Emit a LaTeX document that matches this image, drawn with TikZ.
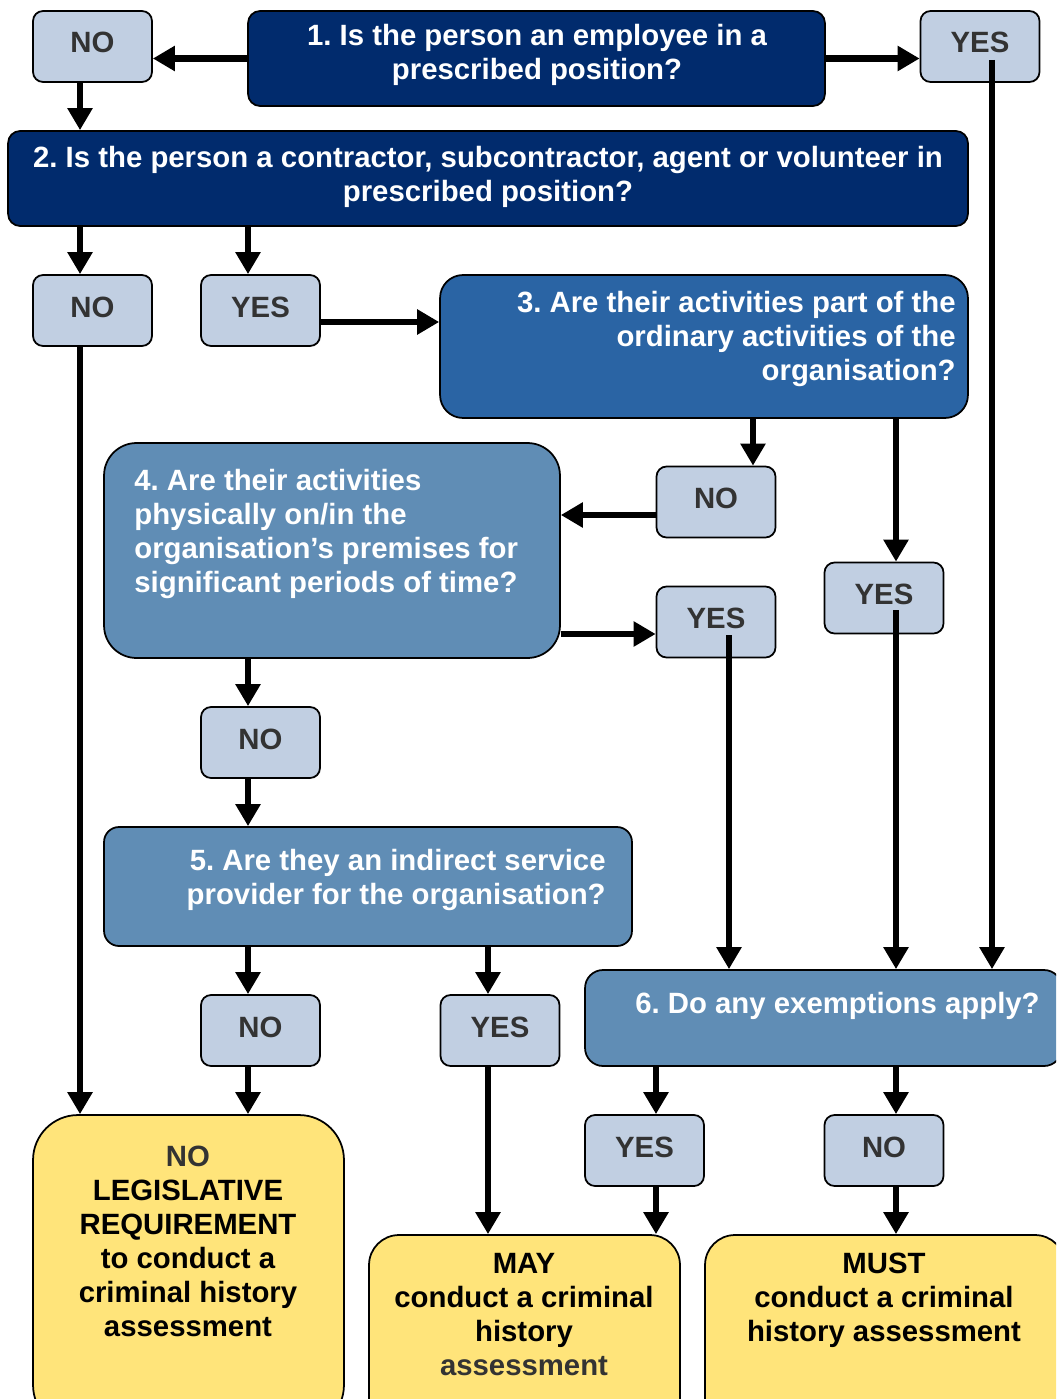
\documentclass[tikz,border=0pt]{standalone}
\usepackage{fontspec}
\setmainfont{Liberation Sans}
\usetikzlibrary{arrows.meta,positioning}
\definecolor{navyq}{HTML}{012B6D}
\definecolor{blueq}{HTML}{2A64A4}
\definecolor{steelq}{HTML}{608DB5}
\definecolor{paleq}{HTML}{C1CFE2}
\definecolor{sunq}{HTML}{FFE47A}
\definecolor{inkgray}{HTML}{333333}
\frenchspacing

\begin{document}
\begin{tikzpicture}[
      x=0.02cm, y=-0.02cm,
      >={Triangle[length=0.44cm, width=0.48cm]},
      font=\fontsize{16.7}{19.35}\selectfont\bfseries,
      box/.style={draw=black, line width=1pt, inner sep=0},
      question/.style={box, rounded corners=0.24cm},
      answer/.style={box, rounded corners=0.2cm, fill=paleq, text=inkgray,
      minimum width=2.38cm, minimum height=1.42cm, text height=0.4cm,
      text depth=0.14cm},
      result/.style={box, fill=sunq, minimum width=6.22cm},
      qtext/.style={inner sep=0, text=white},
      rtext/.style={inner sep=0, text=black, align=center, anchor=north},
      flow/.style={->, line width=0.13cm}
    ]
    \useasboundingbox (0,0) rectangle (1056,1399);
    \clip (0,0) rectangle (1056,1399);

    % question boxes
    \node[question, fill=navyq, minimum width=11.54cm, minimum height=1.9cm]
    (q1) at (536.5,58.5) {};
    \node[question, fill=navyq, minimum width=19.2cm, minimum height=1.9cm]
    (q2) at (488,178.5) {};
    \node[question, fill=blueq, rounded corners=0.46cm, minimum width=10.56cm,
    minimum height=2.86cm] (q3) at (704,346.5) {};
    \node[question, fill=steelq, rounded corners=0.65cm, minimum width=9.12cm,
    minimum height=4.3cm] (q4) at (332,550.5) {};
    \node[question, fill=steelq, rounded corners=0.3cm, minimum width=10.56cm,
    minimum height=2.38cm] (q5) at (368,886.5) {};
    \node[question, fill=steelq, rounded corners=0.36cm, minimum width=9.54cm,
    minimum height=1.92cm] (q6) at (823.5,1018) {};

    \node[qtext, align=center, anchor=north] (q1text) at (537,24)
    {1. Is the person an employee in a\\prescribed position?};
    \node[qtext, align=center, anchor=north] (q2text) at (488,146)
    {2. Is the person a contractor, subcontractor, agent or volunteer in\\
    prescribed position?};
    \node[qtext, align=right, anchor=north east] (q3text) at (956,291)
    {3. Are their activities part of the\\ordinary activities of the\\
    organisation?};
    \node[qtext, align=left, anchor=north west] (q4text) at (134,469)
    {4. Are their activities\\physically on/in the\\organisation’s premises for\\
    significant periods of time?};
    \node[qtext, align=right, anchor=north east] (q5text) at (606,849)
    {5. Are they an indirect service\\provider for the organisation?};
    \node[qtext, align=right, anchor=north east] (q6text) at (1040,992)
    {6. Do any exemptions apply?};

    % answers
    \node[answer] (no1) at (92.5,46.5) {NO};
    \node[answer] (yes1) at (980,46.5) {YES};
    \node[answer] (no2) at (92.5,310.5) {NO};
    \node[answer] (yes2) at (260.5,310.5) {YES};
    \node[answer] (no3) at (716,502) {NO};
    \node[answer] (yes3) at (884,598) {YES};
    \node[answer] (yes4) at (716,622) {YES};
    \node[answer] (no4) at (260.5,742.5) {NO};
    \node[answer] (no5) at (260.5,1030.5) {NO};
    \node[answer] (yes5) at (500,1030.5) {YES};
    \node[answer] (yes6) at (644.5,1150.5) {YES};
    \node[answer] (no6) at (884,1150.5) {NO};

    % outcomes
    \node[result, rounded corners=0.9cm, minimum height=6.3cm] (none)
    at (188.5,1272.5) {};
    \node[result, rounded corners=0.6cm, minimum height=3.9cm] (may)
    at (524.5,1332.5) {};
    \node[result, rounded corners=0.6cm, minimum width=7.2cm,
    minimum height=3.9cm] (must) at (885,1332.5) {};

    \node[rtext] (nonetext) at (188,1146) {\textcolor{inkgray}{NO}\\
    LEGISLATIVE\\REQUIREMENT\\to conduct a\\criminal history\\assessment};
    \node[rtext] (maytext) at (524,1253) {MAY\\conduct a criminal\\history\\
    \textcolor{inkgray}{assessment}};
    \node[rtext] (musttext) at (884,1253) {MUST\\conduct a criminal\\
    history assessment};

    % connectors
    \draw[flow] (q1.west) -- (q1.west -| no1.east);
    \draw[flow] (q1.east) -- (q1.east -| yes1.west);
    \draw[flow] ([xshift=-0.25cm]no1.south) -- ([xshift=-0.25cm]no1.south |- q2.north);
    \draw[flow] ([xshift=-0.25cm]no2.north |- q2.south) -- ([xshift=-0.25cm]no2.north);
    \draw[flow] ([xshift=-0.25cm]yes2.north |- q2.south) -- ([xshift=-0.25cm]yes2.north);
    \draw[flow] ([yshift=-0.23cm]yes2.east) -- ([yshift=-0.23cm]yes2.east -| q3.west);
    \draw[flow] ([xshift=0.74cm]no3.north |- q3.south) -- ([xshift=0.74cm]no3.north);
    \draw[flow] ([xshift=0.24cm]yes3.north |- q3.south) -- ([xshift=0.24cm]yes3.north);
    \draw[flow] ([yshift=-0.26cm]no3.west) -- ([yshift=-0.26cm]no3.west -| q4.east);
    \draw[flow] ([yshift=-0.24cm]yes4.west -| q4.east) -- ([yshift=-0.24cm]yes4.west);
    \draw[flow] ([xshift=-0.25cm]no4.north |- q4.south) -- ([xshift=-0.25cm]no4.north);
    \draw[flow] ([xshift=-0.25cm]no4.south) -- ([xshift=-0.25cm]no4.south |- q5.north);
    \draw[flow] ([xshift=-0.25cm]no5.north |- q5.south) -- ([xshift=-0.25cm]no5.north);
    \draw[flow] ([xshift=-0.24cm]yes5.north |- q5.south) -- ([xshift=-0.24cm]yes5.north);
    \draw[flow] ([xshift=-0.25cm]no2.south) -- ([xshift=-0.25cm]no2.south |- none.north);
    \draw[flow] ([xshift=-0.25cm]no5.south) -- ([xshift=-0.25cm]no5.south |- none.north);
    \draw[flow] ([xshift=-0.24cm]yes5.south) -- ([xshift=-0.24cm]yes5.south |- may.north);
    \draw[flow] ([xshift=0.26cm,yshift=-0.26cm]yes4.center)
    -- ([xshift=0.26cm]yes4.center |- q6.north);
    \draw[flow] ([xshift=0.24cm,yshift=-0.24cm]yes3.center)
    -- ([xshift=0.24cm]yes3.center |- q6.north);
    \draw[flow] ([xshift=0.24cm,yshift=-0.27cm]yes1.center)
    -- ([xshift=0.24cm]yes1.center |- q6.north);
    \draw[flow] ([xshift=0.23cm]yes6.north |- q6.south) -- ([xshift=0.23cm]yes6.north);
    \draw[flow] ([xshift=0.24cm]no6.north |- q6.south) -- ([xshift=0.24cm]no6.north);
    \draw[flow] ([xshift=0.23cm]yes6.south) -- ([xshift=0.23cm]yes6.south |- may.north);
    \draw[flow] ([xshift=0.24cm]no6.south) -- ([xshift=0.24cm]no6.south |- must.north);
  \end{tikzpicture}
\end{document}
